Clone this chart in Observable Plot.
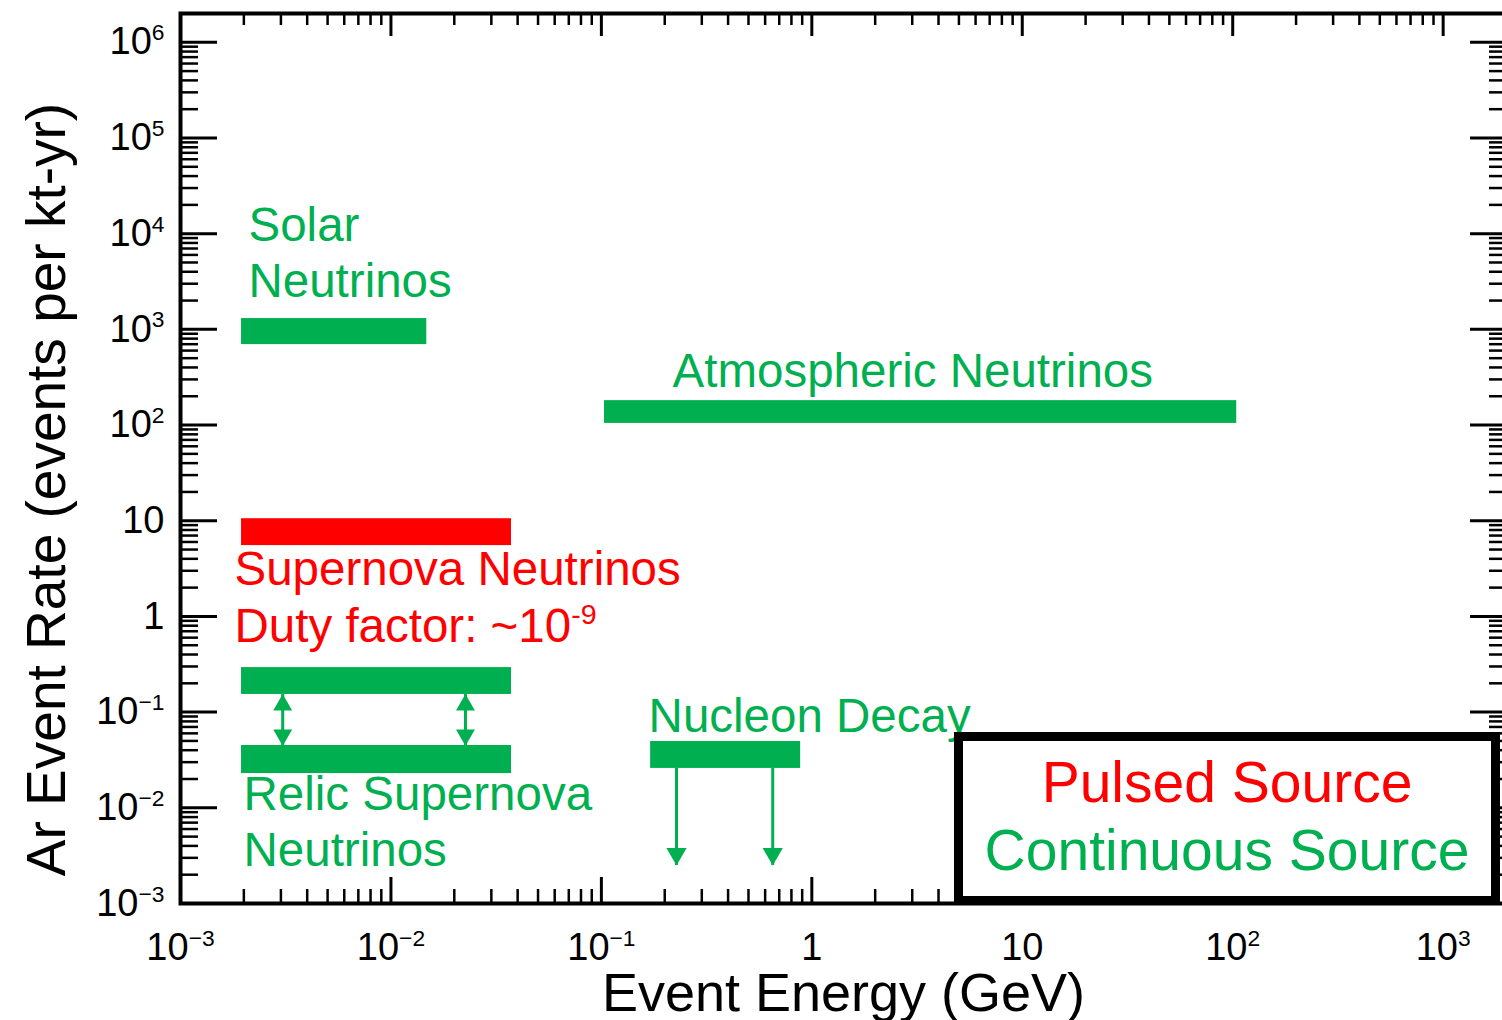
<!DOCTYPE html>
<html>
<head>
<meta charset="utf-8">
<script src="https://cdn.jsdelivr.net/npm/d3@7"></script>
<script src="https://cdn.jsdelivr.net/npm/@observablehq/plot@0.6"></script>
<style>
  html, body { margin: 0; padding: 0; background: #fff; overflow: hidden; }
  #wrap { position: relative; width: 1502px; height: 1020px; overflow: hidden; }
  #wrap svg { max-width: none !important; display: block; }
  #legend { position: absolute; left: 954px; top: 732px; width: 546px; height: 173px;
            border: 9px solid #000; box-sizing: border-box; background: #fff;
            font-family: "Liberation Sans", Arial, sans-serif; font-size: 57px; }
  #legend div { position: absolute; left: 0; right: 0; text-align: center; line-height: 57px; white-space: nowrap; }
</style>
</head>
<body>
<div id="wrap"></div>
<script>
const GREEN = "#00b050";
const RED = "#ff0000";

// ---- data ----
const sources    = ["Solar Neutrinos", "Atmospheric Neutrinos", "Supernova Neutrinos", "Relic Supernova (upper)", "Relic Supernova (lower)", "Nucleon Decay"];
const sourceType = ["Continuous", "Continuous", "Pulsed", "Continuous", "Continuous", "Continuous"];
const energyMin  = [0.00195, 0.1035, 0.00195, 0.00195, 0.00195, 0.1714];
const energyMax  = [0.0148, 104.5, 0.0374, 0.0374, 0.0374, 0.885];
const rateLow    = [693, 104, 5.5, 0.153, 0.0228, 0.0258];
const rateHigh   = [1297, 180, 10.5, 0.292, 0.0448, 0.0493];

const relicArrowEnergy   = [0.00306, 0.0226];
const nucleonArrowEnergy = [0.2275, 0.652];
const nucleonLimitRate   = 0.0025;

const labelText   = ["Solar\nNeutrinos", "Atmospheric Neutrinos", "Supernova Neutrinos\nDuty factor: ~10^-9", "Relic Supernova\nNeutrinos", "Nucleon Decay"];
const labelEnergy = [0.002104, 0.2178, 0.001806, 0.001993, 0.1676];
const labelRate   = [2200, 252, 0.547, 0.00244, 0.0627];
const labelPulsed = [false, false, true, false, false];

const xMajorTicks  = [1e-3, 1e-2, 1e-1, 1, 10, 100, 1000];
const xMajorLabels = ["10^\u22123", "10^\u22122", "10^\u22121", "1", "10", "10^2", "10^3"];
const yMajorTicks  = [1e-3, 1e-2, 1e-1, 1, 10, 100, 1e3, 1e4, 1e5, 1e6];
const yMajorLabels = ["10^\u22123", "10^\u22122", "10^\u22121", "1", "10", "10^2", "10^3", "10^4", "10^5", "10^6"];

const minorTicks = (lo, hi, max) => d3.range(lo, hi + 1)
  .flatMap(e => d3.range(2, 10).map(m => +(m * Math.pow(10, e)).toPrecision(6)))
  .filter(v => v < max);
const xMinorTicks = minorTicks(-3, 3, 2000);
const yMinorTicks = minorTicks(-3, 6, 2e6);

// ---- tables ----
const bars = sources.map((s, i) => ({source: s, type: sourceType[i], x1: energyMin[i], x2: energyMax[i], y1: rateLow[i], y2: rateHigh[i]}));
const relicArrows = relicArrowEnergy.map(e => ({energy: e, top: rateLow[3], bottom: rateHigh[4]}));
const nucleonArrows = nucleonArrowEnergy.map(e => ({energy: e, top: rateLow[5], bottom: nucleonLimitRate}));
const labels = labelText.map((t, i) => ({text: t, x: labelEnergy[i], y: labelRate[i], color: labelPulsed[i] ? RED : GREEN}));

const xLab = new Map(xMajorTicks.map((v, i) => [v, xMajorLabels[i]]));
const yLab = new Map(yMajorTicks.map((v, i) => [v, yMajorLabels[i]]));
const blank = () => "";
const TICKFONT = 38;

const chart = Plot.plot({
  width: 1506,
  height: 1020,
  marginLeft: 180,
  marginRight: 0,
  marginTop: 13,
  marginBottom: 117,
  style: {fontFamily: "'Liberation Sans', Arial, sans-serif", color: "#000", background: "#fff"},
  x: {type: "log", domain: [1e-3, 2000]},
  y: {type: "log", domain: [1e-3, 2e6]},
  marks: [
    // bars
    Plot.rect(bars, {x1: "x1", x2: "x2", y1: "y1", y2: "y2", fill: d => d.type === "Pulsed" ? RED : GREEN}),
    // relic double arrows
    Plot.ruleX(relicArrows, {x: "energy", y1: "top", y2: "bottom", stroke: GREEN, strokeWidth: 3}),
    Plot.dot(relicArrows, {x: "energy", y: "top", symbol: "triangle", r: 7, fill: GREEN, stroke: null, dy: 10.5}),
    Plot.dot(relicArrows, {x: "energy", y: "bottom", symbol: "triangle", r: 7, fill: GREEN, stroke: null, rotate: 180, dy: -10.5}),
    // nucleon decay limit arrows
    Plot.ruleX(nucleonArrows, {x: "energy", y1: "top", y2: "bottom", stroke: GREEN, strokeWidth: 3}),
    Plot.dot(nucleonArrows, {x: "energy", y: "bottom", symbol: "triangle", r: 7.5, fill: GREEN, stroke: null, rotate: 180, dy: -11.5}),
    // annotations
    Plot.text(labels, {x: "x", y: "y", text: "text", fill: "color", textAnchor: "start", lineAnchor: "bottom", fontSize: 47.5, lineHeight: 1.18}),
    // ticks (inward)
    Plot.axisX(xMajorTicks, {anchor: "bottom", tickSize: 26, dy: -26, strokeWidth: 3, tickFormat: blank, label: null}),
    Plot.axisX(xMinorTicks, {anchor: "bottom", tickSize: 14, dy: -14, strokeWidth: 2.5, tickFormat: blank, label: null}),
    Plot.axisX(xMajorTicks, {anchor: "top", tickSize: 22, dy: 22, strokeWidth: 3, tickFormat: blank, label: null}),
    Plot.axisX(xMinorTicks, {anchor: "top", tickSize: 11, dy: 11, strokeWidth: 2.5, tickFormat: blank, label: null}),
    Plot.axisY(yMajorTicks, {anchor: "left", tickSize: 37, dx: 37, strokeWidth: 3, tickFormat: blank, label: null}),
    Plot.axisY(yMinorTicks, {anchor: "left", tickSize: 18, dx: 18, strokeWidth: 2.5, tickFormat: blank, label: null}),
    Plot.axisY(yMajorTicks, {anchor: "right", tickSize: 37, dx: -37, strokeWidth: 3, tickFormat: blank, label: null}),
    Plot.axisY(yMinorTicks, {anchor: "right", tickSize: 18, dx: -18, strokeWidth: 2.5, tickFormat: blank, label: null}),
    // tick labels
    Plot.axisX(xMajorTicks, {anchor: "bottom", tickSize: 0, tickPadding: 30, fontSize: TICKFONT, tickFormat: d => xLab.get(d), label: null}),
    Plot.axisY(yMajorTicks, {anchor: "left", tickSize: 0, tickPadding: 16, fontSize: TICKFONT, tickFormat: d => yLab.get(d), label: null}),
    // axis titles
    Plot.text(["Event Energy (GeV)"], {text: d => d, frameAnchor: "bottom", textAnchor: "middle", dy: 107, lineAnchor: "bottom", fontSize: 54, fill: "#000"}),
    Plot.text(["Ar Event Rate (events per kt-yr)"], {text: d => d, frameAnchor: "left", textAnchor: "middle", rotate: -90, dx: -116, dy: 31, lineAnchor: "bottom", fontSize: 55, fill: "#000"}),
    Plot.frame({stroke: "#000", strokeWidth: 4})
  ]
});

// superscripts: "10^x" -> "10" + raised tspan
d3.select(chart).selectAll("text, tspan").each(function() {
  if (this.children.length) return;
  const s = this.textContent;
  const k = s.indexOf("^");
  if (k < 0) return;
  this.textContent = s.slice(0, k);
  d3.select(this).append("tspan")
    .attr("dy", "-0.62em")
    .attr("font-size", "0.6em")
    .text(s.slice(k + 1));
});

const wrap = document.getElementById("wrap");
wrap.appendChild(chart);

const legend = document.createElement("div");
legend.id = "legend";
const legendItems = [["Pulsed Source", RED, 13], ["Continuous Source", GREEN, 81]];
for (const [t, c, top] of legendItems) {
  const d = document.createElement("div");
  d.textContent = t;
  d.style.color = c;
  d.style.top = top + "px";
  legend.appendChild(d);
}
wrap.appendChild(legend);
</script>
</body>
</html>
